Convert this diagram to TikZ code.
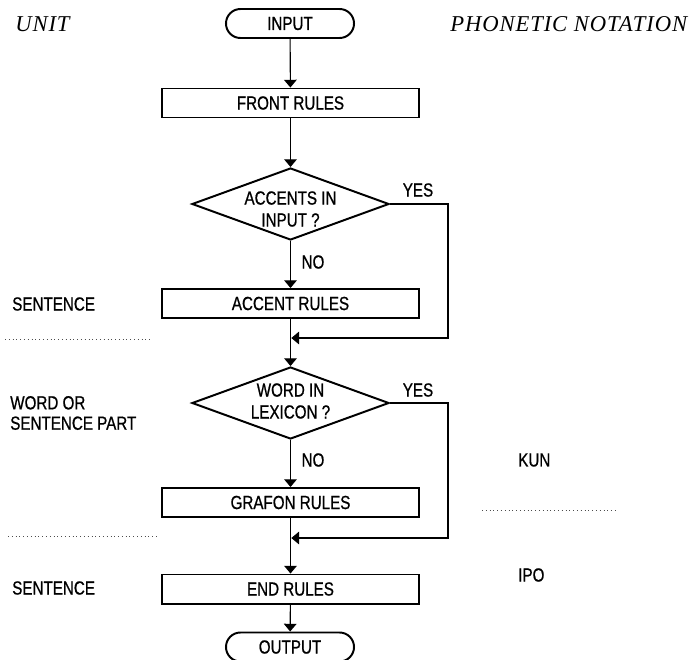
\documentclass[tikz,border=0pt]{standalone}
\usepackage{fontspec}
\setmainfont{Liberation Sans}[FakeStretch=0.8, FakeBold=0.8]
\newfontfamily\headfont{Liberation Serif}[LetterSpace=4]
\usetikzlibrary{shapes.geometric,shapes.misc,arrows.meta}

\tikzset{
  lbl/.style={font=\fontsize{13.5}{15.6}\selectfont, inner sep=0pt},
  head/.style={font=\headfont\itshape\fontsize{16.1}{18}\selectfont, inner sep=0pt, anchor=west},
  rulebox/.style={draw, line width=1.4pt, rectangle, minimum width=6.425cm,
    minimum height=0.725cm, inner sep=0pt, lbl},
  terminal/.style={draw, line width=1.4pt, rounded rectangle, minimum width=3.2cm,
    minimum height=0.725cm, inner sep=0pt, lbl},
  decision/.style={draw, line width=1.4pt, diamond, minimum width=4.925cm,
    minimum height=1.8cm, inner sep=0pt},
  flow/.style={line width=0.8pt, -{Triangle[width=9pt,length=5.5pt]}},
  sep/.style={line width=0.7pt, dotted, black!70},
}

\begin{document}
\begin{tikzpicture}[x=0.025cm, y=-0.025cm]
\useasboundingbox (0,0) rectangle (696,659);

% column headings
\node[head] (unit) at (15,24.5) {UNIT};
\node[head] (phon) at (450,24.5) {PHONETIC NOTATION};

% main chain
\node[terminal] (input) at (290,23.5) {INPUT};
\node[rulebox] (front) at (290.5,103) {FRONT RULES};
\node[decision] (acc) at (290.5,204) {};
\node[lbl, align=center] (acctxt) at (290.5,209) {ACCENTS IN\\INPUT ?};
\node[rulebox] (accent) at (290.5,303.5) {ACCENT RULES};
\coordinate (j1) at (290.5,338);
\node[decision] (word) at (290.5,403) {};
\node[lbl, align=center] (wordtxt) at (290.5,401) {WORD IN\\LEXICON ?};
\node[rulebox] (grafon) at (290.5,502.5) {GRAFON RULES};
\coordinate (j2) at (290.5,538);
\node[rulebox] (endr) at (290.5,589) {END RULES};
\node[terminal] (output) at (290,647) {OUTPUT};

% bypass column
\coordinate (rt) at (448,0);

% connectors
\draw[flow] (input) -- (front);
\draw[flow] (front) -- (acc);
\draw[flow] (acc) -- (accent);
\draw[flow] (accent) -- (word);
\draw[flow] (word) -- (grafon);
\draw[flow] (grafon) -- (endr);
\draw[flow] (endr) -- (output);
\draw[flow] (acc.east) -| (rt |- j1) -- ([xshift=0.6pt]j1);
\draw[flow] (word.east) -| (rt |- j2) -- ([xshift=0.6pt]j2);

% branch labels
\node[lbl] (yes1) at (418,190) {YES};
\node[lbl] (no1) at (313,262) {NO};
\node[lbl] (yes2) at (418,390) {YES};
\node[lbl] (no2) at (313,460) {NO};

% unit column
\node[lbl, anchor=west] (sent1) at (12,304) {SENTENCE};
\coordinate (d1a) at (5,339);
\coordinate (d1b) at (153,339);
\draw[sep] (d1a) -- (d1b);
\node[lbl, anchor=west, align=left, font=\fontsize{13.5}{14.5}\selectfont] (wordpart) at (10,413) {WORD OR\\SENTENCE PART};
\coordinate (d2a) at (8,536);
\coordinate (d2b) at (157,536);
\draw[sep] (d2a) -- (d2b);
\node[lbl, anchor=west] (sent2) at (12,588) {SENTENCE};

% notation column
\node[lbl, anchor=west] (kun) at (518,460) {KUN};
\coordinate (d3a) at (482,510);
\coordinate (d3b) at (617,510);
\draw[sep] (d3a) -- (d3b);
\node[lbl, anchor=west] (ipo) at (518,575) {IPO};
\end{tikzpicture}
\end{document}
